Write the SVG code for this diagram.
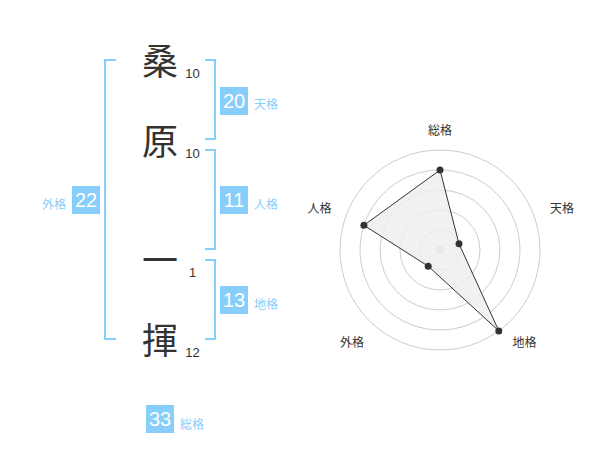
<svg xmlns="http://www.w3.org/2000/svg" width="600" height="470" viewBox="0 0 600 470">
<style>
text{font-family:"Liberation Sans","Noto Sans CJK JP",sans-serif}
.ch{font-size:36px;fill:#333;text-anchor:middle}
.num{font-size:13px;fill:#333;text-anchor:middle}
.br{fill:none;stroke:#87cefa;stroke-width:2}
.box{fill:#87cefa}
.bt{font-size:20px;fill:#fff;text-anchor:middle}
.lb{font-size:12px;fill:#87cefa}
.ring{fill:none;stroke:#ccc;stroke-width:1}
.rl{font-size:12px;fill:#333;text-anchor:middle}
.dot{fill:#333}
</style>
<rect width="600" height="470" fill="#fff"/>
<g id="connectors">
<path class="br" d="M116,60 H105 V339 H116"/>
<path class="br" d="M205,60 H215 V139 H205"/>
<path class="br" d="M205,150 H215 V249 H205"/>
<path class="br" d="M205,260 H215 V339 H205"/>
</g>
<g id="char1"><text class="ch" x="160" y="75">桑</text><text class="num" x="192.5" y="78">10</text></g>
<g id="char2"><text class="ch" x="160" y="155">原</text><text class="num" x="192.5" y="158">10</text></g>
<g id="char3"><text class="ch" x="160" y="274">一</text><text class="num" x="192.5" y="277">1</text></g>
<g id="char4"><text class="ch" x="160" y="354">揮</text><text class="num" x="192.5" y="357">12</text></g>
<g id="tenkaku"><rect class="box" x="220" y="87" width="28" height="28"/><text class="bt" x="234" y="108">20</text><text class="lb" x="254" y="109">天格</text></g>
<g id="jinkaku"><rect class="box" x="220" y="186" width="28" height="28"/><text class="bt" x="234" y="207">11</text><text class="lb" x="254" y="209">人格</text></g>
<g id="gaikaku"><rect class="box" x="72" y="186" width="28" height="28"/><text class="bt" x="86" y="207">22</text><text class="lb" x="66" y="209" text-anchor="end">外格</text></g>
<g id="chikaku"><rect class="box" x="220" y="286" width="28" height="28"/><text class="bt" x="234" y="307">13</text><text class="lb" x="254" y="309">地格</text></g>
<g id="soukaku"><rect class="box" x="146" y="405" width="28" height="28"/><text class="bt" x="160" y="426">33</text><text class="lb" x="180" y="429">総格</text></g>
<g id="radar">
<circle class="ring" cx="440" cy="250" r="20"/>
<circle class="ring" cx="440" cy="250" r="40"/>
<circle class="ring" cx="440" cy="250" r="60"/>
<circle class="ring" cx="440" cy="250" r="80"/>
<circle class="ring" cx="440" cy="250" r="100"/>
<circle cx="440" cy="250" r="4" fill="#ccc"/>
<polygon points="440,170 459,243.8 498.8,330.9 428.2,266.2 363.9,225.3" fill="#eee" fill-opacity="0.8" stroke="#333" stroke-width="1"/>
<circle class="dot" cx="440" cy="170" r="3.5"/>
<circle class="dot" cx="459" cy="243.8" r="3.5"/>
<circle class="dot" cx="498.8" cy="330.9" r="3.5"/>
<circle class="dot" cx="428.2" cy="266.2" r="3.5"/>
<circle class="dot" cx="363.9" cy="225.3" r="3.5"/>
<text class="rl" x="440" y="135">総格</text>
<text class="rl" x="562" y="213">天格</text>
<text class="rl" x="524.5" y="347">地格</text>
<text class="rl" x="352" y="347">外格</text>
<text class="rl" x="319.5" y="213">人格</text>
</g>
</svg>
